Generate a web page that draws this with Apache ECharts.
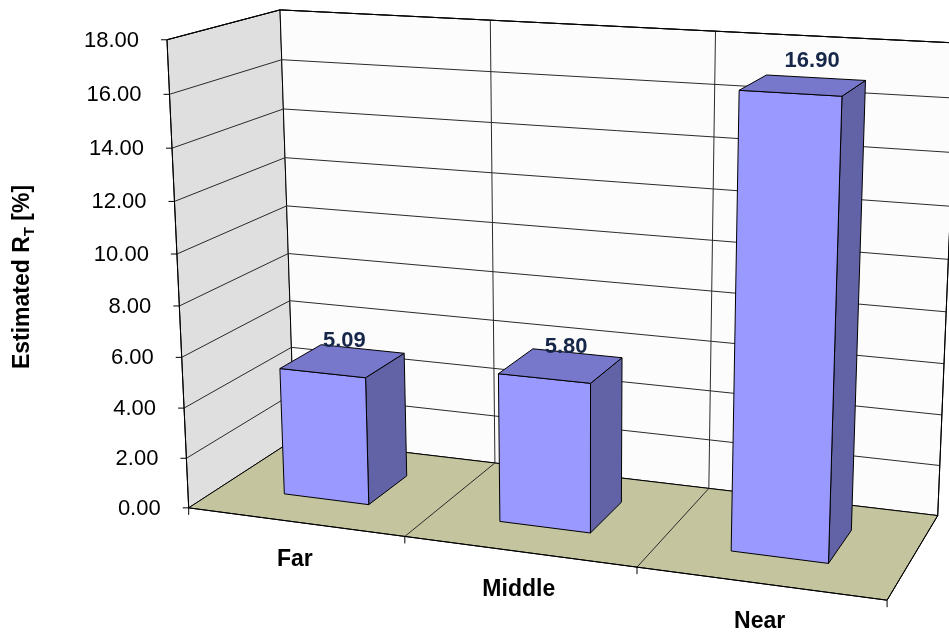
<!DOCTYPE html>
<html>
<head>
<meta charset="utf-8">
<script src="https://cdn.jsdelivr.net/npm/echarts@6/dist/echarts.min.js"></script>
<style>
  html, body { margin: 0; padding: 0; background: #ffffff; }
  #chart { width: 949px; height: 636px; }
</style>
</head>
<body>
<div id="chart"></div>
<script>
// ---- data ----
const categories = ['Far', 'Middle', 'Near'];
const rtValues = [5.09, 5.80, 16.90];
const tickValues = [0, 2, 4, 6, 8, 10, 12, 14, 16, 18];
const tickLabels = ['0.00', '2.00', '4.00', '6.00', '8.00', '10.00', '12.00', '14.00', '16.00', '18.00'];

// ---- layout / style ----
const FONT = '"Liberation Sans", Arial, Helvetica, sans-serif';
const Y_MAX = 18;
const BAR_WIDTH = 0.4;      // share of a category band
const BAR_FRONT = 0.3;      // depth of the bar's front face (0 = front, 1 = back)
const BAR_BACK = 0.7;
const COLORS = {
  leftWall: '#dfdfdf',
  backWall: '#fcfcfc',
  floor: '#c4c49e',
  edge: '#000000',
  grid: '#2a2a2a',
  barFront: '#9999ff',
  barTop: '#7777cc',
  barSide: '#6262a6',
  valueText: '#17274a'
};

// Screen outline of the plot box, used to calibrate the perspective camera.
// Each edge lists pixel y at heights 0, 1/9, ... 1 and pixel x at bottom/top.
const EDGE_FRONT_LEFT = { a: 0, d: 0, xBottom: 189, xTop: 167, ys: [508, 458, 408, 357, 307, 253, 202, 148, 94, 40] };
const EDGE_BACK_LEFT  = { a: 0, d: 1, xBottom: 295, xTop: 280, ys: [440, 395, 347, 300, 253, 207, 157, 109, 60, 9] };
const EDGE_BACK_RIGHT = { a: 3, d: 1, xBottom: 938, xTop: 957, ys: [516, 465, 415, 363, 312, 259, 207, 153, 98, 43] };
const EXTRA_ANCHORS = [
  // [a, f, d, px, py]
  [1, 0, 0, 405, 537], [2, 0, 0, 637, 567], [3, 0, 0, 887, 600],
  [1, 0, 1, 493, 462], [2, 0, 1, 708, 488],
  [1, 1, 1, 491, 20],  [2, 1, 1, 715, 32]
];

function buildAnchors() {
  const list = EXTRA_ANCHORS.slice();
  [EDGE_FRONT_LEFT, EDGE_BACK_LEFT, EDGE_BACK_RIGHT].forEach(e => {
    const n = e.ys.length - 1;
    e.ys.forEach((y, k) => {
      const t = k / n;
      list.push([e.a, t, e.d, e.xBottom + (e.xTop - e.xBottom) * t, y]);
    });
  });
  return list;
}

// Least squares fit of a 3x4 projective camera (DLT with p34 = 1).
const NX = 475, NY = 320, NS = 300;
function solveLinear(M, r) {
  const n = r.length;
  for (let c = 0; c < n; c++) {
    let piv = c;
    for (let i = c + 1; i < n; i++) if (Math.abs(M[i][c]) > Math.abs(M[piv][c])) piv = i;
    [M[c], M[piv]] = [M[piv], M[c]];
    [r[c], r[piv]] = [r[piv], r[c]];
    for (let i = c + 1; i < n; i++) {
      const k = M[i][c] / M[c][c];
      for (let j = c; j < n; j++) M[i][j] -= k * M[c][j];
      r[i] -= k * r[c];
    }
  }
  const x = new Array(n).fill(0);
  for (let i = n - 1; i >= 0; i--) {
    let s = r[i];
    for (let j = i + 1; j < n; j++) s -= M[i][j] * x[j];
    x[i] = s / M[i][i];
  }
  return x;
}
function fitCamera(anchors) {
  const n = 11;
  const M = Array.from({ length: n }, () => new Array(n).fill(0));
  const r = new Array(n).fill(0);
  anchors.forEach(([X, Y, Z, px, py]) => {
    const x = (px - NX) / NS, y = (py - NY) / NS;
    const rows = [
      [[X, Y, Z, 1, 0, 0, 0, 0, -x * X, -x * Y, -x * Z], x],
      [[0, 0, 0, 0, X, Y, Z, 1, -y * X, -y * Y, -y * Z], y]
    ];
    rows.forEach(([row, b]) => {
      for (let i = 0; i < n; i++) {
        r[i] += row[i] * b;
        for (let j = 0; j < n; j++) M[i][j] += row[i] * row[j];
      }
    });
  });
  return solveLinear(M, r);
}
const CAM = fitCamera(buildAnchors());
function project(a, f, d) {
  const p = CAM;
  const w = p[8] * a + p[9] * f + p[10] * d + 1;
  return [
    ((p[0] * a + p[1] * f + p[2] * d + p[3]) / w) * NS + NX,
    ((p[4] * a + p[5] * f + p[6] * d + p[7]) / w) * NS + NY
  ];
}

const nCat = categories.length;
// height fraction of a value, read through the (hidden) value axis
function heightFraction(api, cs, v) {
  return (cs.y + cs.height - api.coord([0, v])[1]) / cs.height;
}
function poly(pts, fill, z2) {
  return { type: 'polygon', shape: { points: pts }, style: { fill: fill, stroke: COLORS.edge, lineWidth: 1, lineJoin: 'round' }, z2: z2 };
}
function seg(p1, p2, stroke, z2) {
  return { type: 'line', shape: { x1: p1[0], y1: p1[1], x2: p2[0], y2: p2[1] }, style: { stroke: stroke, lineWidth: 1 }, z2: z2 };
}

// walls, floor, gridlines and axis ticks
function renderFrame(params, api) {
  const cs = params.coordSys;
  const P = project;
  const kids = [];
  kids.push(poly([P(0, 0, 0), P(0, 1, 0), P(0, 1, 1), P(0, 0, 1)], COLORS.leftWall, 1));
  kids.push(poly([P(0, 0, 1), P(nCat, 0, 1), P(nCat, 1, 1), P(0, 1, 1)], COLORS.backWall, 1));
  kids.push(poly([P(0, 0, 0), P(nCat, 0, 0), P(nCat, 0, 1), P(0, 0, 1)], COLORS.floor, 2));
  tickValues.forEach(v => {
    if (v === 0) return;
    const f = heightFraction(api, cs, v);
    kids.push(seg(P(0, f, 0), P(0, f, 1), COLORS.grid, 3));
    kids.push(seg(P(0, f, 1), P(nCat, f, 1), COLORS.grid, 3));
  });
  for (let i = 1; i < nCat; i++) {
    kids.push(seg(P(i, 0, 1), P(i, 1, 1), COLORS.grid, 3));
    kids.push(seg(P(i, 0, 0), P(i, 0, 1), COLORS.grid, 3));
  }
  // outline edges on top
  kids.push(seg(P(0, 0, 0), P(0, 1, 0), COLORS.edge, 4));
  kids.push(seg(P(0, 0, 0), P(nCat, 0, 0), COLORS.edge, 4));
  kids.push(seg(P(nCat, 0, 0), P(nCat, 0, 1), COLORS.edge, 4));
  kids.push(seg(P(nCat, 0, 1), P(nCat, 1, 1), COLORS.edge, 4));
  kids.push(seg(P(0, 1, 0), P(0, 1, 1), COLORS.edge, 4));
  kids.push(seg(P(0, 1, 1), P(nCat, 1, 1), COLORS.edge, 4));
  // category ticks below the front edge
  for (let i = 0; i <= nCat; i++) {
    const p = P(i, 0, 0);
    kids.push(seg(p, [p[0], p[1] + 7], COLORS.edge, 4));
  }
  return { type: 'group', children: kids };
}

// value axis tick marks and labels on the front-left edge
function renderTick(params, api) {
  const cs = params.coordSys;
  const f = heightFraction(api, cs, api.value(1));
  const p = project(0, f, 0);
  return {
    type: 'group',
    children: [
      seg([p[0] - 6, p[1]], p, COLORS.edge, 5),
      {
        type: 'text', z2: 6,
        x: p[0] - 28, y: p[1] + 1,
        style: {
          text: tickLabels[params.dataIndex],
          fontFamily: FONT, fontSize: 22, fill: '#000000',
          align: 'right', verticalAlign: 'middle'
        }
      }
    ]
  };
}

// 3D columns with value labels
function renderBar(params, api) {
  const cs = params.coordSys;
  const c = api.coord([api.value(0), api.value(1)]);
  const band = api.size([1, 0])[0] / cs.width * nCat;
  const center = (c[0] - cs.x) / cs.width * nCat;
  const top = (cs.y + cs.height - c[1]) / cs.height;
  const half = band * BAR_WIDTH / 2;
  const a0 = center - half, a1 = center + half;
  const d0 = BAR_FRONT, d1 = BAR_BACK;
  const P = project;
  const frontTop = P(center, top, d0);
  return {
    type: 'group',
    children: [
      poly([P(a1, 0, d0), P(a1, 0, d1), P(a1, top, d1), P(a1, top, d0)], COLORS.barSide, 10),
      poly([P(a0, 0, d0), P(a1, 0, d0), P(a1, top, d0), P(a0, top, d0)], COLORS.barFront, 11),
      poly([P(a0, top, d0), P(a1, top, d0), P(a1, top, d1), P(a0, top, d1)], COLORS.barTop, 12),
      {
        type: 'text', z2: 20,
        x: frontTop[0] + 22, y: frontTop[1] - 32,
        style: {
          text: api.value(1).toFixed(2),
          fontFamily: FONT, fontSize: 22, fontWeight: 'bold', fill: COLORS.valueText,
          align: 'center', verticalAlign: 'middle'
        }
      }
    ]
  };
}

// category names under the floor
function renderCategory(params, api) {
  const cs = params.coordSys;
  const c = api.coord([api.value(0), 0]);
  const center = (c[0] - cs.x) / cs.width * nCat;
  const p = project(center, 0, 0);
  return {
    type: 'text', z2: 6,
    x: p[0], y: p[1] + 38,
    style: {
      text: categories[params.dataIndex],
      fontFamily: FONT, fontSize: 23, fontWeight: 'bold', fill: '#000000',
      align: 'center', verticalAlign: 'middle'
    }
  };
}

const chart = echarts.init(document.getElementById('chart'), null, { renderer: 'canvas' });
chart.setOption({
  animation: false,
  backgroundColor: '#ffffff',
  grid: { left: 0, right: 0, top: 0, bottom: 0, containLabel: false },
  xAxis: { type: 'category', data: categories, show: false },
  yAxis: { type: 'value', min: 0, max: Y_MAX, interval: 2, show: false },
  graphic: [{
    type: 'text',
    x: 23, y: 277,
    rotation: Math.PI / 2,
    style: {
      text: '{m|Estimated R}{s|T}{m| [%]}',
      align: 'center', verticalAlign: 'middle',
      rich: {
        m: { fontFamily: FONT, fontSize: 23, fontWeight: 'bold', fill: '#000000', lineHeight: 28 },
        s: { fontFamily: FONT, fontSize: 15, fontWeight: 'bold', fill: '#000000', lineHeight: 28, verticalAlign: 'bottom' }
      }
    }
  }],
  series: [
    { type: 'custom', name: 'frame', z: 1, silent: true, renderItem: renderFrame, data: [[0, 0]] },
    { type: 'custom', name: 'ticks', z: 3, silent: true, renderItem: renderTick, data: tickValues.map(v => [0, v]) },
    { type: 'custom', name: 'Estimated RT', z: 2, renderItem: renderBar, data: rtValues.map((v, i) => [i, v]) },
    { type: 'custom', name: 'categories', z: 3, silent: true, renderItem: renderCategory, data: categories.map((c, i) => [i, 0]) }
  ]
});
</script>
</body>
</html>
